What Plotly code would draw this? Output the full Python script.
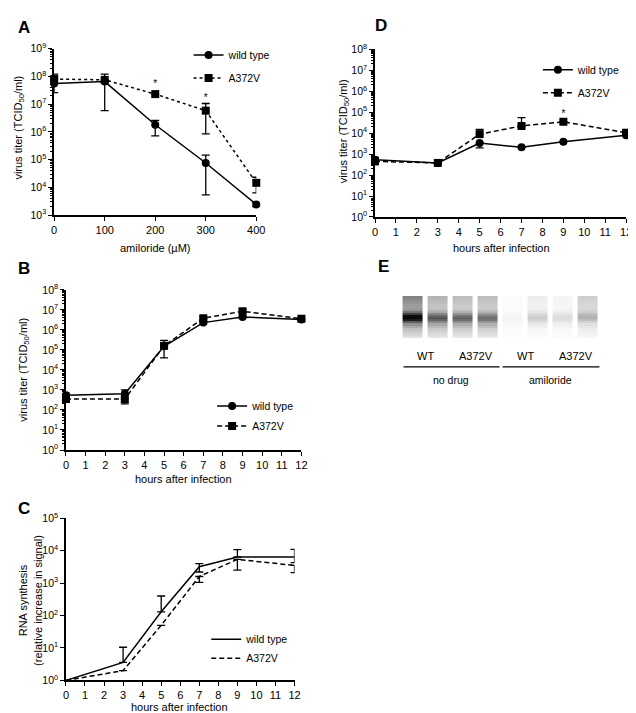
import plotly.graph_objects as go

W, H = 636, 713
FONT = "Arial, 'Liberation Sans', Helvetica, sans-serif"

def px(x):
    return x / W

def py(y):
    return 1 - y / H

# ---------------- Panel A: amiloride dose ----------------
a_x = [0, 100, 200, 300, 400]
a_wt = [5.5e7, 6.5e7, 1.8e6, 7.5e4, 2.4e3]
a_wt_hi = [5.5e7, 6.5e7, 2.6e6, 1.45e5, 2.8e3]
a_wt_lo = [2.6e7, 5.8e6, 7.2e5, 5.3e3, 2.0e3]
a_mut = [8.0e7, 7.5e7, 2.3e7, 5.8e6, 1.45e4]
a_mut_hi = [1.2e8, 1.2e8, 2.3e7, 1.05e7, 2.3e4]
a_mut_lo = [8.0e7, 7.5e7, 2.3e7, 8.5e5, 6.3e3]
a_star_x = [200, 300]
a_star_y = [5.0e7, 1.6e7]
a_xticks = [0, 100, 200, 300, 400]

# ---------------- Panel B: growth, hours ----------------
b_x = [0, 3, 5, 7, 9, 12]
b_wt = [550, 650, 1.5e5, 2.3e6, 4.4e6, 3.3e6]
b_wt_hi = [700, 1000, 1.5e5, 2.6e6, 4.8e6, 3.6e6]
b_wt_lo = [450, 650, 4.0e4, 2.0e6, 4.0e6, 3.0e6]
b_mut = [350, 350, 1.6e5, 3.8e6, 8.5e6, 3.6e6]
b_mut_hi = [420, 350, 3.0e5, 4.5e6, 1.05e7, 4.0e6]
b_mut_lo = [280, 200, 1.6e5, 3.2e6, 7.0e6, 3.2e6]

# ---------------- Panel C: RNA synthesis ----------------
c_x = [0, 3, 5, 7, 9, 12]
c_wt = [1, 3.6, 130, 3.2e3, 6.4e3, 6.4e3]
c_wt_hi = [1, 10.5, 400, 4.0e3, 1.07e4, 1.1e4]
c_wt_lo = [1, 3.6, 130, 2.2e3, 6.4e3, 4.3e3]
c_mut = [1, 2, 50, 1.6e3, 5.4e3, 3.5e3]
c_mut_hi = [1, 2, 50, 1.6e3, 5.4e3, 3.5e3]
c_mut_lo = [1, 2, 50, 1.05e3, 2.5e3, 2.1e3]

# ---------------- Panel D: growth with amiloride ----------------
d_x = [0, 3, 5, 7, 9, 12]
d_wt = [540, 380, 3.4e3, 2.1e3, 3.9e3, 8.0e3]
d_wt_hi = [700, 380, 3.4e3, 2.1e3, 3.9e3, 9.0e3]
d_wt_lo = [540, 380, 2.0e3, 2.1e3, 3.9e3, 7.0e3]
d_mut = [450, 380, 9.0e3, 2.2e4, 3.5e4, 1.05e4]
d_mut_hi = [450, 380, 1.5e4, 5.5e4, 3.5e4, 1.4e4]
d_mut_lo = [380, 380, 9.0e3, 2.2e4, 3.5e4, 7.5e3]
d_star_x = [9]
d_star_y = [8.0e4]

hour_ticks = list(range(0, 13))

# ---------------- Panel E: blot ----------------
e_lanes = [1, 2, 3, 4, 5, 6, 7, 8]
e_band = [0.62, 0.42, 0.40, 0.37, 0.03, 0.16, 0.11, 0.18]
e_smear_top = [0.55, 0.34, 0.30, 0.30, 0.02, 0.08, 0.05, 0.22]
e_smear_bot = [0.36, 0.30, 0.28, 0.27, 0.02, 0.05, 0.04, 0.10]
e_top_profile = [1.0, .95, .9, .85, .8, .78, .75, .75, .78, .8, .6, .3, 0, 0, 0, 0, 0, 0, 0, 0]
e_bot_profile = [0, 0, 0, 0, 0, 0, 0, 0, 0, 0, .3, .7, 1.0, .95, .9, .8, .7, .6, .5, .4]
e_band_profile = [0, 0, 0, 0, 0, 0, .1, .3, .6, .88, 1, .85, .55, .25, .1, 0, 0, 0, 0, 0]
e_labels = ["WT", "A372V", "WT", "A372V"]
e_label_pos = [1.5, 3.5, 5.5, 7.5]
e_groups = ["no drug", "amiloride"]
e_group_pos = [2.5, 6.5]


def sup_ticks(lo, hi):
    vals = [10 ** k for k in range(lo, hi + 1)]
    text = ["10<sup>%d</sup>" % k for k in range(lo, hi + 1)]
    return vals, text


def minor_vals(lo, hi):
    return [m * 10 ** k for k in range(lo, hi) for m in range(2, 10)]


def deltas(v, hi, lo):
    return [h - a for a, h in zip(v, hi)], [a - l for a, l in zip(v, lo)]


fig = go.Figure()

EB = dict(type="data", symmetric=False, color="black", thickness=1.3, width=4)


def add_series(xa, ya, x, y, hi, lo, name, dash, symbol, legend, show_markers=True):
    up, dn = deltas(y, hi, lo)
    fig.add_trace(go.Scatter(
        x=x, y=y, xaxis=xa, yaxis=ya, name=name,
        mode="lines+markers" if show_markers else "lines",
        line=dict(color="black", width=1.5, dash=dash),
        marker=dict(color="black", size=8, symbol=symbol),
        error_y=dict(EB, array=up, arrayminus=dn),
        cliponaxis=False, legend=legend, legendgroup=legend + name,
    ))


# A
add_series("x", "y", a_x, a_wt, a_wt_hi, a_wt_lo, "wild type", "solid", "circle", "legend")
add_series("x", "y", a_x, a_mut, a_mut_hi, a_mut_lo, "A372V", "3px,3px", "square", "legend")
fig.add_trace(go.Scatter(x=a_star_x, y=a_star_y, xaxis="x", yaxis="y", mode="text", text=["*"] * len(a_star_x),
                         textfont=dict(size=10, family=FONT, color="black"), showlegend=False, cliponaxis=False))
# B
add_series("x2", "y2", b_x, b_wt, b_wt_hi, b_wt_lo, "wild type", "solid", "circle", "legend2")
add_series("x2", "y2", b_x, b_mut, b_mut_hi, b_mut_lo, "A372V", "5px,3px", "square", "legend2")
# C
add_series("x3", "y3", c_x, c_wt, c_wt_hi, c_wt_lo, "wild type", "solid", "circle", "legend3", show_markers=False)
add_series("x3", "y3", c_x, c_mut, c_mut_hi, c_mut_lo, "A372V", "5px,3px", "square", "legend3", show_markers=False)
# D
add_series("x4", "y4", d_x, d_wt, d_wt_hi, d_wt_lo, "wild type", "solid", "circle", "legend4")
add_series("x4", "y4", d_x, d_mut, d_mut_hi, d_mut_lo, "A372V", "5px,3px", "square", "legend4")
fig.add_trace(go.Scatter(x=d_star_x, y=d_star_y, xaxis="x4", yaxis="y4", mode="text", text=["*"] * len(d_star_x),
                         textfont=dict(size=10, family=FONT, color="black"), showlegend=False, cliponaxis=False))

# E blot heatmap
z = []
for r in range(len(e_top_profile)):
    row = []
    for i in range(len(e_lanes)):
        v = (e_smear_top[i] * e_top_profile[r] + e_smear_bot[i] * e_bot_profile[r]
             + e_band[i] * e_band_profile[r])
        row.append(min(1.0, v))
    z.append(row)
fig.add_trace(go.Heatmap(
    x=e_lanes, y=list(range(len(e_top_profile))), z=z, xaxis="x5", yaxis="y5",
    colorscale=[[0, "white"], [0.5, "#8f8f8f"], [1, "#0a0a0a"]], zmin=0, zmax=1,
    showscale=False, xgap=5, hoverinfo="skip"))

AX = dict(showline=True, linecolor="black", linewidth=1.5, ticks="outside", ticklen=4,
          tickwidth=1.3, tickcolor="black", showgrid=False, zeroline=False, mirror=False,
          ticklabeloverflow="allow",
          tickfont=dict(family=FONT, size=11, color="black"))


def log_axis(lo, hi, domain, anchor, minor=True):
    vals, text = sup_ticks(lo, hi)
    d = dict(AX, type="log", range=[lo, hi], domain=domain, anchor=anchor,
             tickmode="array", tickvals=vals, ticktext=text,
             tickfont=dict(family=FONT, size=10.5, color="black"))
    if minor:
        d["minor"] = dict(tickmode="array", tickvals=minor_vals(lo, hi), ticks="outside",
                          ticklen=2.5, tickwidth=1, tickcolor="black")
    return d


def lin_axis(rng, ticks, domain, anchor):
    return dict(AX, range=rng, domain=domain, anchor=anchor, tickmode="array", tickvals=ticks)


layout = dict(
    width=W, height=H, margin=dict(l=0, r=0, t=0, b=0),
    paper_bgcolor="white", plot_bgcolor="white",
    font=dict(family=FONT, size=10.5, color="black"),
    xaxis=lin_axis([0, 400], a_xticks, [px(44), px(250)], "y"),
    yaxis=log_axis(3, 9, [py(203), py(33.3)], "x"),
    xaxis2=lin_axis([0, 12], hour_ticks, [px(56), px(296)], "y2"),
    yaxis2=log_axis(0, 8, [py(442.7), py(279.3)], "x2"),
    xaxis3=lin_axis([0, 12], hour_ticks, [px(56), px(289)], "y3"),
    yaxis3=log_axis(0, 5, [py(677.7), py(512.3)], "x3", minor=False),
    xaxis4=lin_axis([0, 12], hour_ticks, [px(371), px(627)], "y4"),
    yaxis4=log_axis(0, 8, [py(205), py(34)], "x4"),
    xaxis5=dict(domain=[px(397), px(601)], anchor="y5", range=[0.5, 8.5], visible=False),
    yaxis5=dict(domain=[py(328.5), py(285.5)], anchor="x5", autorange="reversed", visible=False),
)

LEG = dict(bgcolor="rgba(0,0,0,0)", font=dict(family=FONT, size=10.5, color="black"),
           itemwidth=30, tracegroupgap=4, xanchor="left", yanchor="top", itemclick=False)
layout["legend"] = dict(LEG, x=px(181), y=py(25))
layout["legend2"] = dict(LEG, x=px(205), y=py(383), tracegroupgap=1)
layout["legend3"] = dict(LEG, x=px(199), y=py(621), tracegroupgap=0)
layout["legend4"] = dict(LEG, x=px(537), y=py(40))

annotations = []


def text(x, y, s, size=10.5, bold=False, angle=0, xanchor="center", xref="paper"):
    annotations.append(dict(x=x, y=y, xref=xref, yref="paper", text=("<b>%s</b>" % s) if bold else s,
                            showarrow=False, textangle=angle, xanchor=xanchor, yanchor="middle",
                            font=dict(family=FONT, size=size, color="black")))


# panel letters
text(px(5), py(12), "A", 17, True, xanchor="left")
text(px(5), py(258), "B", 17, True, xanchor="left")
text(px(5), py(502), "C", 17, True, xanchor="left")
text(px(369), py(10), "D", 17, True, xanchor="left")
text(px(372), py(256), "E", 17, True, xanchor="left")

# axis titles
text(px(147), py(237), "amiloride (µM)", 11)
text(px(176), py(472), "hours after infection", 11)
text(px(172), py(705), "hours after infection", 11)
text(px(500), py(237), "hours after infection", 11)
ytitle = "virus titer (TCID<sub>50</sub>/ml)"
text(px(8), py(114), ytitle, 11, angle=-90)
text(px(13), py(361), ytitle, 11, angle=-90)
text(px(339), py(118), ytitle, 11, angle=-90)
text(px(20), py(596), "RNA synthesis<br>(relative increase in signal)", 11, angle=-90)

# blot labels
for s, xp in zip(e_labels, e_label_pos):
    text(xp, py(347), s, 11, xref="x5")
for s, xp in zip(e_groups, e_group_pos):
    text(xp, py(371), s, 10.5, xref="x5")
layout["annotations"] = annotations
layout["shapes"] = [
    dict(type="line", xref="x5", yref="paper", x0=0.62, x1=4.46, y0=py(358), y1=py(358),
         line=dict(color="black", width=1.3)),
    dict(type="line", xref="x5", yref="paper", x0=4.58, x1=8.45, y0=py(358), y1=py(358),
         line=dict(color="black", width=1.3)),
]

fig.update_layout(**layout)
fig.write_html("out.html")
